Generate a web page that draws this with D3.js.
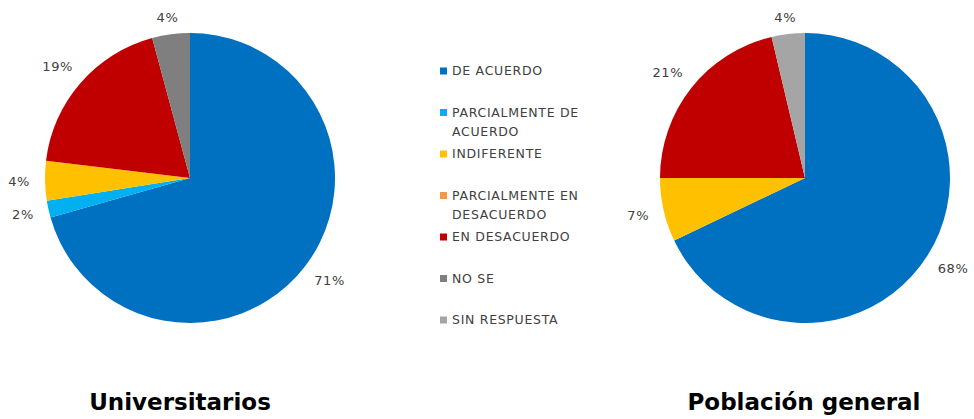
<!DOCTYPE html>
<html><head><meta charset="utf-8">
<script src="https://cdn.jsdelivr.net/npm/d3@7"></script>
<style>body{margin:0;background:#fff}svg{display:block}</style>
</head><body>
<svg id="c" width="974" height="419"></svg>
<script>
const categories = ["DE ACUERDO","PARCIALMENTE DE ACUERDO","INDIFERENTE","PARCIALMENTE EN DESACUERDO","EN DESACUERDO","NO SE","SIN RESPUESTA"];
const legendLines = [["DE ACUERDO"],["PARCIALMENTE DE","ACUERDO"],["INDIFERENTE"],["PARCIALMENTE EN","DESACUERDO"],["EN DESACUERDO"],["NO SE"],["SIN RESPUESTA"]];
const colors = ["#0070C0","#00B0F0","#FFC000","#F79646","#C00000","#7F7F7F","#A5A5A5"];
const universitarios = [70.6, 1.9, 4.4, 0, 18.9, 4.2, 0];
const poblacion = [67.9, 0, 7.1, 0, 21.3, 0, 3.7];
const titles = ["Universitarios","Población general"];

const svg = d3.select("#c");
const font = "'Century Gothic','DejaVu Sans',sans-serif";
const R = 145;
const color = d3.scaleOrdinal().domain(categories).range(colors);
const pie = d3.pie().sort(null).value(d => d.v);
const arc = d3.arc().innerRadius(0).outerRadius(R);

function drawPie(values, cx, cy, title, tx) {
  const total = d3.sum(values);
  const data = pie(categories.map((c, i) => ({c, v: values[i]})));
  const g = svg.append("g").attr("transform", `translate(${cx},${cy})`);
  g.selectAll("path").data(data.filter(d => d.data.v > 0)).join("path")
    .attr("d", arc).attr("fill", d => color(d.data.c));
  const lr = R + 18;
  data.filter(d => d.data.v > 0).forEach(d => {
    const a = (d.startAngle + d.endAngle) / 2;
    const s = Math.sin(a), c = -Math.cos(a);
    const txt = Math.round(d.data.v / total * 100) + "%";
    const w = txt.length * 8;
    let x = lr * s + s * w / 2;
    let y = lr * c + c * 7;
    y = Math.max(y, 17 - cy);
    g.append("text").attr("x", x).attr("y", y).attr("dy", "0.35em")
      .attr("text-anchor", "middle").attr("font-family", font)
      .attr("font-size", 13).attr("letter-spacing", 0.6).attr("fill", "#404040").text(txt);
  });
  svg.append("text").attr("x", tx).attr("y", 410).attr("text-anchor", "middle")
    .attr("font-family", font).attr("font-weight", "bold").attr("font-size", 23)
    .attr("fill", "#000").text(title);
}

drawPie(universitarios, 190, 178, titles[0], 180);
drawPie(poblacion, 805, 178, titles[1], 804);

const ly = d3.scalePoint().domain(categories).range([71, 320]);
const lg = svg.append("g");
categories.forEach((c, i) => {
  const y = ly(c);
  lg.append("rect").attr("x", 440).attr("y", y - 3.5).attr("width", 7).attr("height", 7).attr("fill", color(c));
  legendLines[i].forEach((t, j) => {
    lg.append("text").attr("x", 452).attr("y", y + j * 19.5).attr("dy", "0.35em")
      .attr("font-family", font).attr("font-size", 12.5).attr("letter-spacing", 0.7)
      .attr("fill", "#404040").text(t);
  });
});
</script>
</body></html>
